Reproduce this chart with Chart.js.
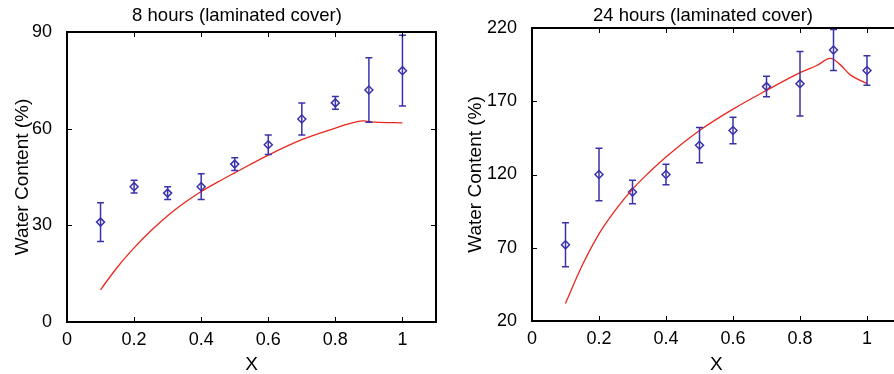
<!DOCTYPE html>
<html>
<head>
<meta charset="utf-8">
<script src="https://cdn.jsdelivr.net/npm/chart.js@4/dist/chart.umd.min.js"></script>
<style>
  html, body { margin: 0; padding: 0; background: #fff; overflow: hidden; }
  #wrap { position: relative; width: 894px; height: 374px; overflow: hidden; }
  .panel { position: absolute; top: 0; height: 374px; }
</style>
</head>
<body>
<div id="wrap">
  <div class="panel" style="left:0;width:447px"><canvas id="left" width="447" height="374"></canvas></div>
  <div class="panel" style="left:447px;width:465px"><canvas id="right" width="465" height="374"></canvas></div>
</div>
<script>
// measured points (x, mean, +/- error)
const xPoints = [0.1, 0.2, 0.3, 0.4, 0.5, 0.6, 0.7, 0.8, 0.9, 1.0];

const leftMean = [31, 42, 40, 42, 49, 55, 63, 68, 72, 78];
const leftErr  = [6, 2, 2, 4, 2, 3, 5, 2, 10, 11];

const rightMean = [72, 120, 108, 120, 140, 150, 180, 182, 205, 191];
const rightErr  = [15, 18, 8, 7, 12, 9, 7, 22, 14, 10];

// model curves (red)
const leftCurveX = [0.1, 0.15, 0.2, 0.25, 0.3, 0.35, 0.4, 0.45, 0.5, 0.6, 0.7, 0.8, 0.85, 0.88, 0.92, 1.0];
const leftCurveY = [10, 17, 23, 28.3, 33, 37, 40.5, 43.5, 46.3, 51.8, 56.6, 60.2, 61.8, 62.4, 62.0, 61.8];

const rightCurveX = [0.1, 0.15, 0.2, 0.25, 0.3, 0.35, 0.4, 0.5, 0.6, 0.7, 0.8, 0.85, 0.89, 0.92, 0.95, 1.0];
const rightCurveY = [32, 58, 79.5, 96, 110, 121.5, 132, 150, 164.6, 177.4, 189.5, 194.4, 199.2, 195, 188, 182];

const leftTitle = '8 hours (laminated cover)';
const rightTitle = '24 hours (laminated cover)';

const FONT = '"Liberation Sans", Arial, Helvetica, sans-serif';
const BLUE = 'rgb(58, 50, 170)';
const RED = 'rgb(232, 40, 30)';

// title drawn at a fixed spot like the original figure
const plotTitle = {
  id: 'plotTitle',
  afterDraw(chart, args, opts) {
    const ctx = chart.ctx;
    ctx.save();
    ctx.font = '18.5px ' + FONT;
    ctx.fillStyle = '#000';
    ctx.textAlign = 'center';
    ctx.textBaseline = 'middle';
    ctx.fillText(opts.text, opts.x, opts.y);
    ctx.restore();
  }
};

// vertical error bars with caps
const errorBars = {
  id: 'errorBars',
  afterDatasetsDraw(chart) {
    const ctx = chart.ctx;
    const xs = chart.scales.x, ys = chart.scales.y;
    chart.data.datasets.forEach(ds => {
      if (!ds.errors) return;
      ctx.save();
      ctx.strokeStyle = ds.borderColor;
      ctx.lineWidth = 1.5;
      ds.data.forEach((p, i) => {
        const px = xs.getPixelForValue(p.x);
        const top = ys.getPixelForValue(p.y + ds.errors[i]);
        const bot = ys.getPixelForValue(p.y - ds.errors[i]);
        ctx.beginPath();
        ctx.moveTo(px, top); ctx.lineTo(px, bot);
        ctx.moveTo(px - 3.5, top); ctx.lineTo(px + 3.5, top);
        ctx.moveTo(px - 3.5, bot); ctx.lineTo(px + 3.5, bot);
        ctx.stroke();
      });
      ctx.restore();
    });
  }
};

// box around the plot with inward ticks on all sides
const frame = {
  id: 'frame',
  afterDraw(chart) {
    const ctx = chart.ctx;
    const a = chart.chartArea;
    const xs = chart.scales.x, ys = chart.scales.y;
    ctx.save();
    ctx.strokeStyle = '#000';
    ctx.lineWidth = 1;
    ctx.beginPath();
    xs.ticks.forEach(t => {
      const px = Math.round(xs.getPixelForValue(t.value)) + 0.5;
      ctx.moveTo(px, a.bottom); ctx.lineTo(px, a.bottom - 5);
      ctx.moveTo(px, a.top); ctx.lineTo(px, a.top + 5);
    });
    ys.ticks.forEach(t => {
      const py = Math.round(ys.getPixelForValue(t.value)) + 0.5;
      ctx.moveTo(a.left, py); ctx.lineTo(a.left + 5, py);
      ctx.moveTo(a.right, py); ctx.lineTo(a.right - 5, py);
    });
    ctx.stroke();
    ctx.lineWidth = 2;
    ctx.strokeRect(a.left, a.top, a.right - a.left, a.bottom - a.top);
    ctx.restore();
  }
};

function makeChart(id, cfg) {
  const points = cfg.mean.map((v, i) => ({ x: xPoints[i], y: v }));
  const curve = cfg.curveX.map((x, i) => ({ x: x, y: cfg.curveY[i] }));
  return new Chart(document.getElementById(id), {
    type: 'scatter',
    data: {
      datasets: [
        {
          type: 'line',
          data: curve,
          borderColor: RED,
          borderWidth: 1.3,
          pointRadius: 0,
          fill: false,
          tension: 0.35
        },
        {
          data: points,
          errors: cfg.err,
          borderColor: BLUE,
          backgroundColor: 'rgba(0,0,0,0)',
          pointStyle: 'rectRot',
          pointRadius: 4,
          borderWidth: 1.5
        }
      ]
    },
    options: {
      responsive: false,
      animation: false,
      layout: { padding: { top: cfg.top, right: cfg.padRight, bottom: 0, left: 0 } },
      plugins: {
        legend: { display: false },
        tooltip: { enabled: false },
        plotTitle: { text: cfg.title, x: cfg.titleX, y: 15.5 }
      },
      scales: {
        x: {
          type: 'linear',
          min: 0, max: 1.1,
          grid: { display: false },
          border: { display: false },
          ticks: {
            stepSize: 0.2, includeBounds: false, maxRotation: 0, autoSkip: false,
            padding: -1, color: '#000', font: { family: FONT, size: 18 },
            callback: v => String(Number(v.toFixed(1)))
          },
          title: {
            display: true, text: 'X', color: '#000',
            font: { family: FONT, size: 19, lineHeight: 1 },
            padding: { top: 0, bottom: 0 }
          },
          afterFit: s => { s.height = cfg.xHeight; }
        },
        y: {
          min: cfg.yMin, max: cfg.yMax,
          grid: { display: false },
          border: { display: false },
          ticks: {
            stepSize: cfg.yStep, padding: 7, color: '#000',
            font: { family: FONT, size: 18 }
          },
          title: {
            display: true, text: 'Water Content (%)', color: '#000',
            font: { family: FONT, size: 19, lineHeight: 1 },
            padding: { top: cfg.yTitlePad, bottom: 0 }
          },
          afterFit: s => { s.width = cfg.yWidth; }
        }
      }
    },
    plugins: [errorBars, frame, plotTitle]
  });
}

makeChart('left', {
  mean: leftMean, err: leftErr,
  curveX: leftCurveX, curveY: leftCurveY,
  title: leftTitle, titleX: 237,
  yMin: 0, yMax: 90, yStep: 30,
  top: 32, padRight: 11, xHeight: 52, yWidth: 67, yTitlePad: 13.5
});

makeChart('right', {
  mean: rightMean, err: rightErr,
  curveX: rightCurveX, curveY: rightCurveY,
  title: rightTitle, titleX: 256,
  yMin: 20, yMax: 220, yStep: 50,
  top: 28, padRight: 11.5, xHeight: 53, yWidth: 85, yTitlePad: 19
});
</script>
</body>
</html>
